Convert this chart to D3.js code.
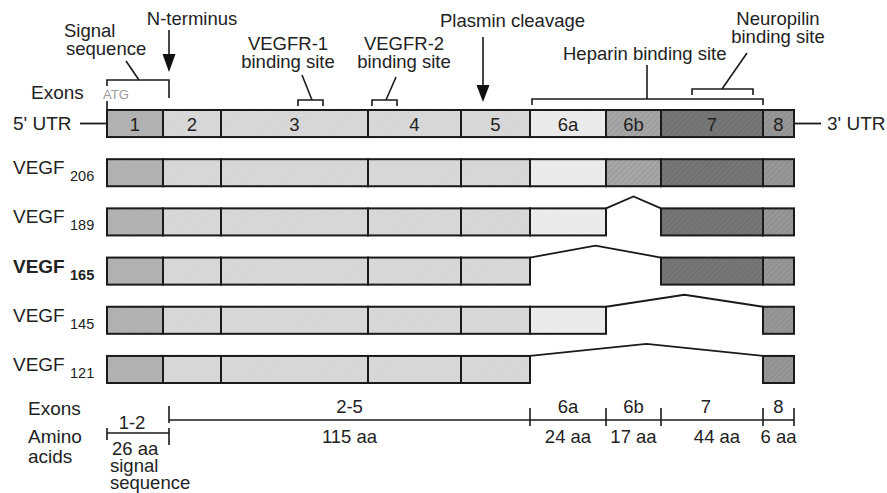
<!DOCTYPE html>
<html>
<head>
<meta charset="utf-8">
<script src="https://cdn.jsdelivr.net/npm/d3@7"></script>
<style>
  body { margin: 0; background: #fff; }
  svg { display: block; font-family: "Liberation Sans", Arial, Helvetica, sans-serif; }
</style>
</head>
<body>
<svg width="887" height="493"></svg>
<script>
// exons, drawn widths (diagram units) and shades
var exonNames = ["1", "2", "3", "4", "5", "6a", "6b", "7", "8"];
var exonWidths = [56, 58, 147, 93, 69, 76, 55, 102, 31];
var exonShades = ["#b2b2b2", "#d8d8d8", "#d8d8d8", "#d8d8d8", "#d8d8d8", "#ececec", "#a6a6a6", "#767676", "#979797"];

// isoforms and the exons each one keeps
var isoforms = ["pre", "206", "189", "165", "145", "121"];
var isoformExons = [
    ["1", "2", "3", "4", "5", "6a", "6b", "7", "8"],
    ["1", "2", "3", "4", "5", "6a", "6b", "7", "8"],
    ["1", "2", "3", "4", "5", "6a", "7", "8"],
    ["1", "2", "3", "4", "5", "7", "8"],
    ["1", "2", "3", "4", "5", "6a", "8"],
    ["1", "2", "3", "4", "5", "8"]
];

// amino acid segments at the bottom
var segLabels = ["1-2", "2-5", "6a", "6b", "7", "8"];
var segAA = ["26 aa", "115 aa", "24 aa", "17 aa", "44 aa", "6 aa"];

function main() {
    var svg = d3.select("svg");

    // cumulative exon start/end in diagram units
    var starts = [], acc = 0;
    exonWidths.forEach(function (w) { starts.push(acc); acc += w; });
    var exonByName = {};
    exonNames.forEach(function (n, i) {
        exonByName[n] = { name: n, i: i, x0: starts[i], x1: starts[i] + exonWidths[i], fill: exonShades[i] };
    });

    var x = d3.scaleLinear().domain([0, acc]).range([107, 794]);
    var y = d3.scaleBand().domain(isoforms).range([110, 383]).paddingInner(0.45);
    var bh = y.bandwidth();

    // hatch patterns (fine diagonal texture like the scan)
    var defs = svg.append("defs");
    exonNames.forEach(function (n, i) {
        var p = defs.append("pattern")
            .attr("id", "pat" + i)
            .attr("width", 4).attr("height", 4)
            .attr("patternUnits", "userSpaceOnUse")
            .attr("patternTransform", "rotate(45)");
        p.append("rect").attr("width", 4).attr("height", 4).attr("fill", exonShades[i]);
        p.append("line").attr("x1", 0).attr("y1", 0).attr("x2", 0).attr("y2", 4)
            .attr("stroke", d3.color(exonShades[i]).darker(i >= 6 ? 0.3 : 0.08))
            .attr("stroke-width", i >= 6 ? 1.5 : 1);
    });

    // rows
    isoforms.forEach(function (iso, r) {
        var top = y(iso);
        var ex = isoformExons[r].map(function (n) { return exonByName[n]; });
        var g = svg.append("g");

        g.selectAll("rect").data(ex).enter().append("rect")
            .attr("x", function (d) { return x(d.x0); })
            .attr("y", top)
            .attr("width", function (d) { return x(d.x1) - x(d.x0); })
            .attr("height", bh)
            .attr("fill", function (d) { return "url(#pat" + d.i + ")"; })
            .attr("stroke", "#1a1a1a")
            .attr("stroke-width", 2);

        // splice lines over skipped exons
        for (var k = 1; k < ex.length; k++) {
            if (ex[k].i !== ex[k - 1].i + 1) {
                var xa = x(ex[k - 1].x1), xb = x(ex[k].x0);
                g.append("polyline")
                    .attr("points", [[xa, top], [(xa + xb) / 2, top - 12], [xb, top]].join(" "))
                    .attr("fill", "none").attr("stroke", "#1a1a1a").attr("stroke-width", 1.8);
            }
        }

        if (r === 0) {
            g.selectAll("text.num").data(ex).enter().append("text")
                .attr("x", function (d) { return (x(d.x0) + x(d.x1)) / 2; })
                .attr("y", top + bh / 2 + 7)
                .attr("text-anchor", "middle")
                .style("font-size", "18.5px")
                .attr("fill", "#222")
                .text(function (d) { return d.name; });
            // UTR lines
            g.append("line").attr("x1", 80).attr("x2", x(0)).attr("y1", top + bh / 2).attr("y2", top + bh / 2)
                .attr("stroke", "#1a1a1a").attr("stroke-width", 1.8);
            g.append("line").attr("x1", x(acc)).attr("x2", 821).attr("y1", top + bh / 2).attr("y2", top + bh / 2)
                .attr("stroke", "#1a1a1a").attr("stroke-width", 1.8);
            g.append("text").attr("x", 13).attr("y", top + bh / 2 + 6.5).style("font-size", "19px").attr("fill", "#222").text("5' UTR");
            g.append("text").attr("x", 827).attr("y", top + bh / 2 + 6.5).style("font-size", "19px").attr("fill", "#222").text("3' UTR");
        } else {
            var t = g.append("text").attr("x", 13).attr("y", top + bh / 2 + 1.5)
                .style("font-size", "19px").attr("fill", "#222")
                .style("font-weight", iso === "165" ? "bold" : "normal");
            t.append("tspan").text("VEGF ");
            t.append("tspan").attr("dy", 7).style("font-size", "14.5px").text(iso);
        }
    });

    // top annotations
    var ann = svg.append("g").attr("fill", "#222").style("font-size", "18.5px");
    var stroke = function (sel) { return sel.attr("fill", "none").attr("stroke", "#1a1a1a").attr("stroke-width", 1.6); };
    var sigEnd = 169;

    ann.append("text").attr("x", 31).attr("y", 99).style("font-size", "19px").text("Exons");
    ann.append("text").attr("x", 103).attr("y", 99).style("font-size", "13px").attr("fill", "#9a9a9a").text("ATG");
    stroke(ann.append("line").attr("x1", x(0)).attr("x2", x(0)).attr("y1", 101).attr("y2", 110));

    // signal sequence
    stroke(ann.append("path").attr("d", "M" + x(0) + ",86V80H" + sigEnd + "V98"));
    stroke(ann.append("line").attr("x1", 139).attr("y1", 80).attr("x2", 126).attr("y2", 61));
    ann.append("text").attr("x", 64).attr("y", 37).text("Signal");
    ann.append("text").attr("x", 66).attr("y", 55).text("sequence");

    // N-terminus arrow
    ann.append("text").attr("x", 192).attr("y", 25).attr("text-anchor", "middle").text("N-terminus");
    stroke(ann.append("line").attr("x1", sigEnd).attr("x2", sigEnd).attr("y1", 30).attr("y2", 56));
    ann.append("path").attr("d", "M" + (sigEnd - 6.5) + ",54L" + (sigEnd + 6.5) + ",54L" + sigEnd + ",72Z").attr("fill", "#111");

    // receptor binding brackets
    function bracket(x0, x1, yTop, leg) {
        stroke(ann.append("path").attr("d", "M" + x0 + "," + (yTop + leg) + "V" + yTop + "H" + x1 + "V" + (yTop + leg)));
    }
    bracket(298, 323, 100, 6);
    stroke(ann.append("line").attr("x1", 312).attr("y1", 100).attr("x2", 302).attr("y2", 75));
    ann.append("text").attr("x", 288).attr("y", 50).attr("text-anchor", "middle").text("VEGFR-1");
    ann.append("text").attr("x", 288).attr("y", 68).attr("text-anchor", "middle").text("binding site");

    bracket(372, 397, 100, 6);
    stroke(ann.append("line").attr("x1", 386).attr("y1", 100).attr("x2", 396).attr("y2", 77));
    ann.append("text").attr("x", 404).attr("y", 50).attr("text-anchor", "middle").text("VEGFR-2");
    ann.append("text").attr("x", 404).attr("y", 68).attr("text-anchor", "middle").text("binding site");

    // plasmin cleavage arrow
    var px = 483;
    ann.append("text").attr("x", 440).attr("y", 27).text("Plasmin cleavage");
    stroke(ann.append("line").attr("x1", px).attr("x2", px).attr("y1", 37).attr("y2", 87));
    ann.append("path").attr("d", "M" + (px - 6.5) + ",85L" + (px + 6.5) + ",85L" + px + ",102Z").attr("fill", "#111");

    // heparin
    bracket(x(exonByName["6a"].x0) + 2, x(exonByName["7"].x1), 99, 6);
    stroke(ann.append("line").attr("x1", 647).attr("x2", 647).attr("y1", 99).attr("y2", 65));
    ann.append("text").attr("x", 563).attr("y", 60).text("Heparin binding site");

    // neuropilin
    bracket(692, 753, 89, 6);
    stroke(ann.append("line").attr("x1", 722).attr("y1", 89).attr("x2", 747).attr("y2", 53));
    ann.append("text").attr("x", 778).attr("y", 25).attr("text-anchor", "middle").text("Neuropilin");
    ann.append("text").attr("x", 778).attr("y", 43).attr("text-anchor", "middle").text("binding site");

    // bottom amino acid scale
    var segEdges = [x(0), sigEnd, x(exonByName["6a"].x0), x(exonByName["6b"].x0), x(exonByName["7"].x0), x(exonByName["8"].x0), x(acc)];
    var bot = svg.append("g").attr("fill", "#222").style("font-size", "18.5px");
    bot.append("text").attr("x", 28).attr("y", 415).style("font-size", "19px").text("Exons");
    bot.append("text").attr("x", 28).attr("y", 443).style("font-size", "19px").text("Amino");
    bot.append("text").attr("x", 28).attr("y", 463).style("font-size", "19px").text("acids");

    // 1-2 segment sits lower
    stroke(bot.append("line").attr("x1", segEdges[0]).attr("x2", segEdges[1]).attr("y1", 433).attr("y2", 433));
    stroke(bot.append("line").attr("x1", segEdges[0]).attr("x2", segEdges[0]).attr("y1", 428).attr("y2", 440));
    stroke(bot.append("line").attr("x1", segEdges[1]).attr("x2", segEdges[1]).attr("y1", 428).attr("y2", 445));
    bot.append("text").attr("x", 132).attr("y", 429).attr("text-anchor", "middle").text(segLabels[0]);
    bot.append("text").attr("x", 112).attr("y", 455).text(segAA[0]);
    bot.append("text").attr("x", 110).attr("y", 472).text("signal");
    bot.append("text").attr("x", 110).attr("y", 489).text("sequence");

    stroke(bot.append("line").attr("x1", segEdges[1]).attr("x2", segEdges[6]).attr("y1", 420).attr("y2", 420));
    for (var s = 1; s < segLabels.length; s++) {
        var a = segEdges[s], b = segEdges[s + 1], m = (a + b) / 2;
        stroke(bot.append("line").attr("x1", b).attr("x2", b).attr("y1", 408).attr("y2", 426));
        if (s === 1) stroke(bot.append("line").attr("x1", a).attr("x2", a).attr("y1", 406).attr("y2", 423));
        bot.append("text").attr("x", s === 4 ? m - 6 : m).attr("y", 413).attr("text-anchor", "middle").text(segLabels[s]);
        bot.append("text").attr("x", s === 4 ? m + 5 : m).attr("y", 443).attr("text-anchor", "middle").text(segAA[s]);
    }
}
main();
</script>
</body>
</html>
